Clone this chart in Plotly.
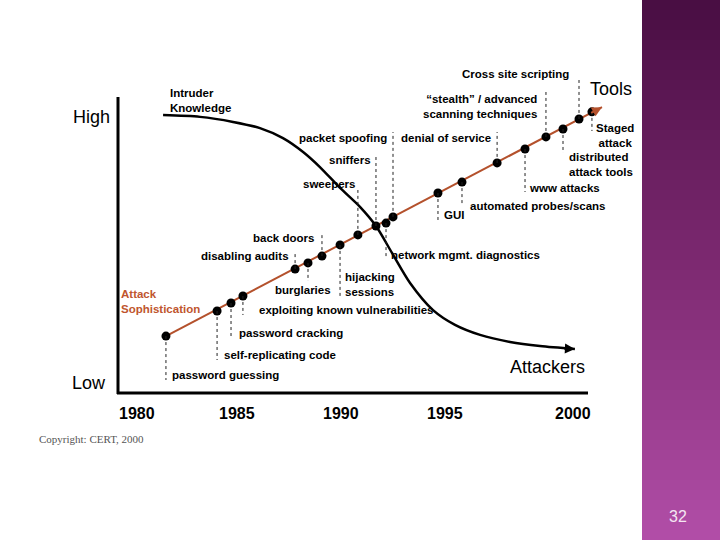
import plotly.graph_objects as go

# ---------------- data ----------------
YEAR_TICKS = [1980, 1985, 1990, 1995, 2000]

EVENT_LABELS = [
    "password guessing", "self-replicating code", "password cracking",
    "exploiting known vulnerabilities", "disabling audits", "burglaries",
    "back doors", "hijacking<br>sessions", "sweepers", "sniffers",
    "network mgmt. diagnostics", "packet spoofing", "GUI",
    "automated probes/scans", "denial of service", "www attacks",
    "\u201cstealth\u201d / advanced<br>scanning techniques",
    "distributed<br>attack tools", "Cross site scripting", "Staged<br>attack",
]
EVENT_YEARS = [1981.41, 1983.90, 1984.58, 1985.16, 1987.70, 1988.33, 1989.01,
               1989.89, 1990.76, 1991.64, 1992.13, 1992.47, 1994.66, 1995.83,
               1997.54, 1998.90, 1999.92, 2000.75, 2001.53, 2002.16]
EVENT_LEVELS = [1.93, 2.78, 3.05, 3.29, 4.20, 4.41, 4.64, 5.02, 5.36, 5.66,
                5.76, 5.97, 6.78, 7.15, 7.80, 8.27, 8.68, 8.95, 9.29, 9.53]
ATTACK_TREND_END = (2002.65, 9.69)

KNOW_YEARS = [1981.27, 1983.07, 1984.68, 1985.99, 1987.11, 1988.09, 1988.91,
              1989.89, 1990.86, 1991.64, 1992.42, 1993.30, 1994.42, 1995.49,
              1996.71, 1998.17, 1999.63, 2001.33]
KNOW_LEVELS = [9.42, 9.36, 9.19, 8.98, 8.64, 8.17, 7.66, 6.95, 6.31, 5.66,
               4.75, 3.73, 2.81, 2.31, 1.97, 1.73, 1.59, 1.49]

# ---------------- layout helpers (pixel -> data) ----------------
W, H = 720, 540
PX_PER_YEAR, X_ORIGIN_PX = 20.53, 137
PX_PER_LEVEL, Y_ORIGIN_PX = 29.5, 393


def xd(px):
    return 1980 + (px - X_ORIGIN_PX) / PX_PER_YEAR


def yd(py):
    return (Y_ORIGIN_PX - py) / PX_PER_LEVEL


# label placement (style): x px, y px, xanchor, align, leader-line end y px
LABEL_STYLE = [
    (170, 375, "left", "left", 380),
    (222, 355, "left", "left", 360),
    (237, 333, "left", "left", 338),
    (257, 310, "left", "left", 315),
    (291, 256, "right", "right", 252),
    (333, 290, "right", "right", 281),
    (316, 238, "right", "right", 233),
    (343, 284, "left", "left", 297),
    (357, 184, "right", "right", 190),
    (373, 160, "right", "right", 155),
    (389, 255, "left", "left", 258),
    (389, 138, "right", "right", 132),
    (442, 215, "left", "left", 221),
    (468, 206, "left", "left", 204),
    (493, 138, "right", "right", 132),
    (527, 188, "left", "left", 192),
    (539, 106, "right", "right", 92),
    (567, 164, "left", "left", 153),
    (571, 74, "right", "right", 80),
    (615, 135, "center", "center", 131),
]
YEAR_XSHIFT = [0, -3, -1, 0, 25]

FONT = "Liberation Sans, Arial, sans-serif"
ATTACK_COLOR = "#b4512c"
LABEL_SIZE = 11.5

fig = go.Figure()

# purple side strip (gradient bands)
stops = [(0.0, (72, 13, 66)), (0.5, (126, 42, 114)), (1.0, (178, 78, 168))]


def grad(t):
    for (t0, c0), (t1, c1) in zip(stops[:-1], stops[1:]):
        if t <= t1:
            f = (t - t0) / (t1 - t0)
            return "rgb(%d,%d,%d)" % tuple(round(a + (b - a) * f) for a, b in zip(c0, c1))
    return "rgb(%d,%d,%d)" % stops[-1][1]


NB = 54
shapes = []
for i in range(NB):
    shapes.append(dict(type="rect", xref="paper", yref="paper",
                       x0=642 / W, x1=1, y0=1 - (i + 1) / NB - 0.001, y1=1 - i / NB,
                       fillcolor=grad((i + 0.5) / NB), line=dict(width=0), layer="below"))

# chart axes (frame lines)
shapes.append(dict(type="line", x0=xd(118), x1=xd(118), y0=yd(394), y1=yd(97),
                   line=dict(color="black", width=3)))
shapes.append(dict(type="line", x0=xd(117), x1=xd(588), y0=yd(393), y1=yd(393),
                   line=dict(color="black", width=3)))

# leader lines from each event dot to its label
for yr, lv, st in zip(EVENT_YEARS, EVENT_LEVELS, LABEL_STYLE):
    shapes.append(dict(type="line", x0=yr, x1=yr, y0=lv, y1=yd(st[4]),
                       line=dict(color="#222222", width=1, dash="dot")))

# intruder knowledge curve
fig.add_trace(go.Scatter(x=KNOW_YEARS, y=KNOW_LEVELS, mode="lines",
                         line=dict(color="black", width=2.5, shape="spline", smoothing=0.8),
                         hoverinfo="skip", showlegend=False))

# attack sophistication trend line
fig.add_trace(go.Scatter(x=[EVENT_YEARS[0], ATTACK_TREND_END[0]],
                         y=[EVENT_LEVELS[0], ATTACK_TREND_END[1]], mode="lines",
                         line=dict(color=ATTACK_COLOR, width=2),
                         hoverinfo="skip", showlegend=False))

# event dots
fig.add_trace(go.Scatter(x=EVENT_YEARS, y=EVENT_LEVELS, mode="markers",
                         marker=dict(color="black", size=9),
                         text=[s.replace("<br>", " ") for s in EVENT_LABELS],
                         hoverinfo="text", showlegend=False))

ann = []
# arrowheads
ann.append(dict(x=ATTACK_TREND_END[0], y=ATTACK_TREND_END[1],
                ax=ATTACK_TREND_END[0] - 0.6, ay=ATTACK_TREND_END[1] - 0.6 * 0.3725,
                axref="x", ayref="y", xref="x", yref="y", text="", showarrow=True,
                arrowhead=2, arrowsize=1, arrowwidth=2, arrowcolor=ATTACK_COLOR))
ann.append(dict(x=KNOW_YEARS[-1], y=KNOW_LEVELS[-1],
                ax=KNOW_YEARS[-1] - 0.6, ay=KNOW_LEVELS[-1] + 0.02,
                axref="x", ayref="y", xref="x", yref="y", text="", showarrow=True,
                arrowhead=2, arrowsize=1, arrowwidth=2, arrowcolor="black"))

# event labels
for lab, st in zip(EVENT_LABELS, LABEL_STYLE):
    ann.append(dict(x=xd(st[0]), y=yd(st[1]), text="<b>%s</b>" % lab, showarrow=False,
                    xanchor=st[2], yanchor="middle", align=st[3],
                    font=dict(family=FONT, size=LABEL_SIZE, color="black")))

# year labels
for yr, sh in zip(YEAR_TICKS, YEAR_XSHIFT):
    ann.append(dict(x=yr, y=yd(413), text="<b>%d</b>" % yr, showarrow=False, xshift=sh,
                    xanchor="center", yanchor="middle",
                    font=dict(family=FONT, size=16, color="black")))

# big axis words
for txt, px, py in [("High", 91, 117), ("Low", 89, 383), ("Tools", 611, 89),
                    ("Attackers", 547, 367)]:
    ann.append(dict(x=xd(px), y=yd(py), text=txt, showarrow=False,
                    xanchor="center", yanchor="middle",
                    font=dict(family=FONT, size=18, color="black")))

ann.append(dict(x=xd(168), y=yd(100), text="<b>Intruder<br>Knowledge</b>", showarrow=False,
                xanchor="left", yanchor="middle", align="left",
                font=dict(family=FONT, size=LABEL_SIZE, color="black")))
ann.append(dict(x=xd(119), y=yd(301), text="<b>Attack<br>Sophistication</b>", showarrow=False,
                xanchor="left", yanchor="middle", align="left",
                font=dict(family=FONT, size=LABEL_SIZE, color="#c0552e")))
ann.append(dict(x=xd(37), y=yd(439), text="Copyright: CERT, 2000", showarrow=False,
                xanchor="left", yanchor="middle",
                font=dict(family="Liberation Serif, Times New Roman, serif", size=11, color="#555555")))
ann.append(dict(x=678 / W, y=1 - 516 / H, xref="paper", yref="paper", text="32",
                showarrow=False, xanchor="center", yanchor="middle",
                font=dict(family=FONT, size=16, color="#f4e6f2")))

fig.update_layout(
    width=W, height=H, margin=dict(l=0, r=0, t=0, b=0),
    paper_bgcolor="white", plot_bgcolor="white",
    xaxis=dict(range=[xd(0), xd(W)], visible=False, fixedrange=True),
    yaxis=dict(range=[yd(H), yd(0)], visible=False, fixedrange=True),
    shapes=shapes, annotations=ann, showlegend=False,
)

fig.write_html("out.html", config={"displayModeBar": False},
               post_script="document.body.style.margin='0';document.body.style.overflow='hidden';")
